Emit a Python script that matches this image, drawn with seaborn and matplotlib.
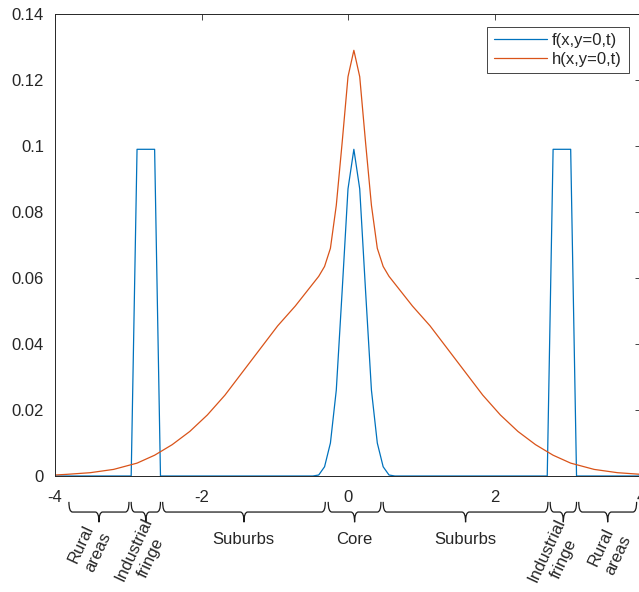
import matplotlib
matplotlib.use("Agg")
import matplotlib.pyplot as plt
import matplotlib.transforms as mtransforms
from matplotlib.path import Path
from matplotlib.patches import PathPatch
import seaborn as sns

# f(x,y=0,t)
f_x = [-4.00, -2.96, -2.88, -2.64, -2.56,
       -0.48, -0.40, -0.32, -0.24, -0.16, -0.08, 0.00, 0.08, 0.16, 0.24,
       0.32, 0.40, 0.48, 0.56, 0.64,
       2.72, 2.80, 3.04, 3.12, 4.00]
f_y = [0.0, 0.0, 0.099, 0.099, 0.0,
       0.0, 0.0003, 0.0028, 0.010, 0.026, 0.056, 0.087, 0.099, 0.087, 0.056,
       0.026, 0.010, 0.0028, 0.0003, 0.0,
       0.0, 0.099, 0.099, 0.0, 0.0]

# h(x,y=0,t)
h_x = [-4.00, -3.84, -3.52, -3.20, -2.88, -2.64, -2.40, -2.16, -1.92, -1.68,
       -1.44, -1.20, -0.96, -0.72, -0.56, -0.40, -0.32, -0.24, -0.16, -0.08,
       0.00, 0.08, 0.16, 0.24, 0.32, 0.40, 0.48, 0.56, 0.72, 0.88,
       1.12, 1.36, 1.60, 1.84, 2.08, 2.32, 2.56, 2.80, 3.04, 3.36,
       3.68, 4.00]
h_y = [0.0003, 0.0005, 0.0010, 0.0020, 0.0039, 0.0063, 0.0095, 0.0135, 0.0185, 0.0245,
       0.0315, 0.0385, 0.0455, 0.0515, 0.0560, 0.0605, 0.0635, 0.0690, 0.0820, 0.1010,
       0.1210, 0.1290, 0.1210, 0.1010, 0.0820, 0.0690, 0.0635, 0.0605, 0.0560, 0.0515,
       0.0455, 0.0385, 0.0315, 0.0245, 0.0185, 0.0135, 0.0095, 0.0063, 0.0039, 0.0020,
       0.0010, 0.0005]

# regions under the axis
region_names = ["Rural\nareas", "Industrial\nfringe", "Suburbs", "Core",
                "Suburbs", "Industrial\nfringe", "Rural\nareas"]
region_start = [-3.81, -2.96, -2.53, -0.27, 0.48, 2.76, 3.15]
region_end = [-2.99, -2.56, -0.31, 0.45, 2.73, 3.12, 3.94]

x_ticks = [-4, -2, 0, 2, 4]
x_ticklabels = ["-4", "-2", "0", "2", "4"]
y_ticks = [0, 0.02, 0.04, 0.06, 0.08, 0.10, 0.12, 0.14]
y_ticklabels = ["0", "0.02", "0.04", "0.06", "0.08", "0.1", "0.12", "0.14"]

# label placement (x in data, y in axes fraction, rotation)
label_layout = [(-3.53, -0.156, 65), (-2.81, -0.168, 65), (-1.43, -0.147, 0),
                (0.08, -0.147, 0), (1.60, -0.147, 0), (2.83, -0.170, 65),
                (3.57, -0.163, 65)]

sns.set_style("white")
plt.rcParams["font.family"] = ["Liberation Sans", "DejaVu Sans"]
plt.rcParams["axes.unicode_minus"] = False

dark = "#262626"
fig = plt.figure(figsize=(6.39, 5.92), dpi=100)
ax = fig.add_axes([55 / 639, 116 / 592, 586 / 639, 462 / 592])

sns.lineplot(x=f_x, y=f_y, ax=ax, color="#0072BD", lw=0.9, label="f(x,y=0,t)")
sns.lineplot(x=h_x, y=h_y, ax=ax, color="#D95319", lw=0.9, label="h(x,y=0,t)")

ax.set_xlim(-4, 4)
ax.set_ylim(0, 0.14)
ax.set_xticks(x_ticks)
ax.set_xticklabels(x_ticklabels)
ax.set_yticks(y_ticks)
ax.set_yticklabels(y_ticklabels)
ax.tick_params(axis="both", direction="in", length=4, width=0.6, colors=dark,
               labelsize=12, top=True, right=True)
ax.tick_params(axis="x", pad=10)
ax.tick_params(axis="y", pad=8)
for sp in ax.spines.values():
    sp.set_visible(True)
    sp.set_color(dark)
    sp.set_linewidth(0.7)

leg = ax.legend(loc="upper right", fontsize=12, frameon=True, fancybox=False,
                framealpha=1, edgecolor=dark, handlelength=3.2, handletextpad=0.3,
                borderaxespad=0.75, borderpad=0.4, labelspacing=0.2)
leg.get_frame().set_linewidth(0.6)

# curly braces below the x axis
trans = mtransforms.blended_transform_factory(ax.transData, ax.transAxes)


def brace(x0, x1, y_top=-0.056, y_mid=-0.078, y_tip=-0.100, r=0.05):
    xm = (x0 + x1) / 2
    verts = [(x0, y_top), (x0, y_mid), (x0 + r, y_mid), (xm - r, y_mid),
             (xm, y_mid), (xm, y_tip), (xm, y_mid), (xm + r, y_mid),
             (x1 - r, y_mid), (x1, y_mid), (x1, y_top)]
    codes = [Path.MOVETO, Path.CURVE3, Path.CURVE3, Path.LINETO,
             Path.CURVE3, Path.CURVE3, Path.CURVE3, Path.CURVE3,
             Path.LINETO, Path.CURVE3, Path.CURVE3]
    ax.add_patch(PathPatch(Path(verts, codes), fill=False, lw=0.9, ec="#1a1a1a",
                           transform=trans, clip_on=False))


for name, x0, x1, (lx, ly, rot) in zip(region_names, region_start, region_end, label_layout):
    brace(x0, x1)
    if rot:
        ax.text(lx, ly, name, transform=trans, rotation=rot, ha="center", va="center",
                multialignment="center", linespacing=1.3, fontsize=12, color=dark)
    else:
        ax.text(lx, ly, name, transform=trans, ha="center", va="baseline",
                fontsize=12, color=dark)

fig.savefig("out.png", dpi=100)
